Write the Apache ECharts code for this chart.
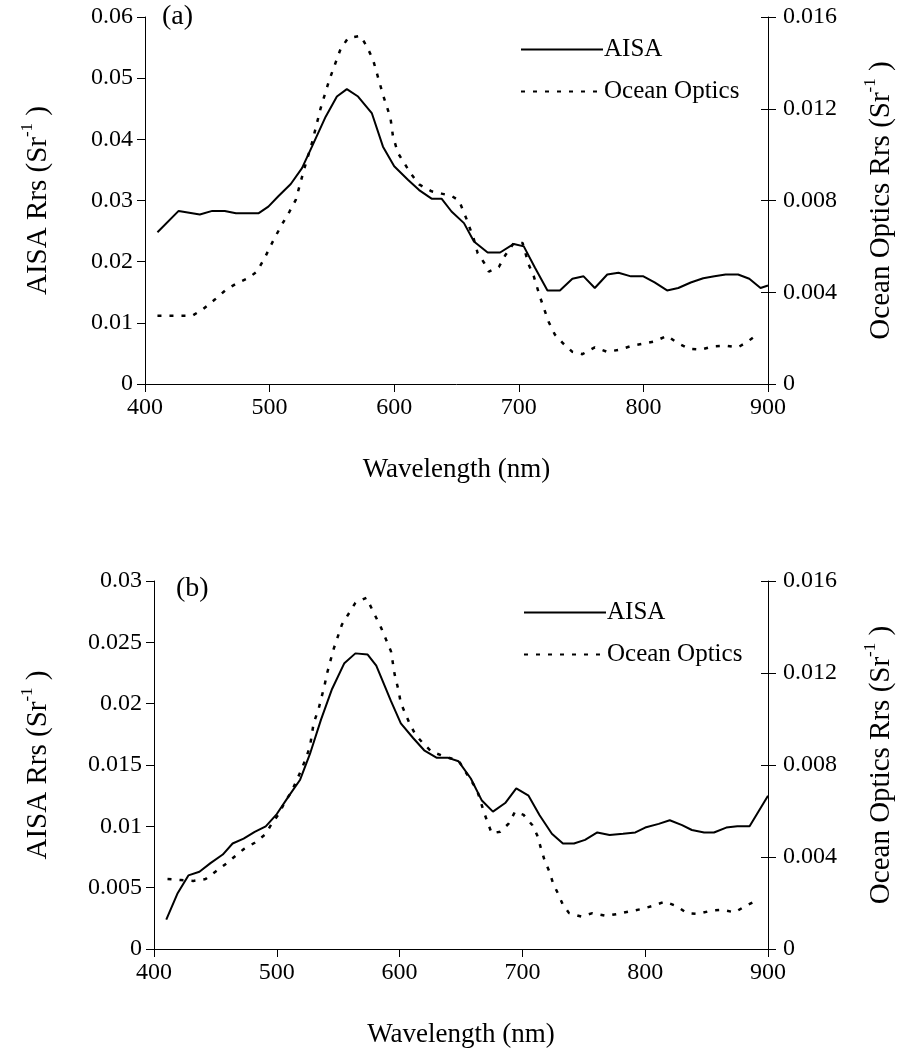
<!DOCTYPE html>
<html>
<head>
<meta charset="utf-8">
<script src="https://cdn.jsdelivr.net/npm/echarts@6/dist/echarts.min.js"></script>
<style>
html,body{margin:0;padding:0;background:#fff;}
#chart{width:904px;height:1057px;}
</style>
</head>
<body>
<div id="chart"></div>
<script>
// ---------- data (wavelength nm, Rrs Sr^-1) ----------
const wlAisaA = [410,427,444,454,464,473,491,499,507,517,526,534,545,554,562,571,582,591,600,611,620,630,638,646,656,664,675,685,696,704,713,723,733,743,752,761,771,780,790,800,809,819,828,838,848,857,866,876,885,894,900];
const aisaA   = [0.0248,0.0283,0.0277,0.0283,0.0283,0.0279,0.0279,0.0290,0.0307,0.0327,0.0353,0.0388,0.0437,0.0470,0.0482,0.0470,0.0443,0.0388,0.0356,0.0334,0.0317,0.0303,0.0303,0.0282,0.0263,0.0233,0.0215,0.0215,0.0229,0.0225,0.0190,0.0153,0.0153,0.0172,0.0176,0.0157,0.0179,0.0182,0.0176,0.0176,0.0166,0.0153,0.0157,0.0166,0.0173,0.0176,0.0179,0.0179,0.0172,0.0157,0.0161];

const wlOceanA = [410,438,446,456,465,474,483,490,496,502,509,516,521,528,534,541,548,557,563,573,578,583,591,597,599,603,613,620,630,638,646,652,658,664,667,672,676,684,689,696,703,708,712,717,724,729,735,743,751,761,771,781,791,800,809,819,827,837,846,856,866,876,884,891];
const oceanA   = [0.00298,0.00298,0.00324,0.00368,0.00411,0.00440,0.00462,0.00491,0.00549,0.00615,0.00687,0.00752,0.00803,0.00942,0.01051,0.01203,0.01327,0.01461,0.01508,0.01518,0.01472,0.01414,0.01261,0.01160,0.01080,0.01007,0.00920,0.00870,0.00840,0.00830,0.00820,0.00800,0.00720,0.00630,0.00570,0.00530,0.00490,0.00510,0.00560,0.00615,0.00615,0.00520,0.00470,0.00380,0.00270,0.00215,0.00180,0.00140,0.00130,0.00160,0.00140,0.00150,0.00167,0.00176,0.00186,0.00210,0.00180,0.00153,0.00150,0.00164,0.00167,0.00160,0.00186,0.00215];

const wlAisaB = [410,419,428,437,446,456,464,473,482,491,500,510,519,527,536,545,555,564,574,581,586,593,601,611,620,630,639,648,658,667,676,686,695,705,714,724,733,742,751,761,771,782,792,800,811,820,830,838,848,856,866,875,885,900];
const aisaB   = [0.0024,0.0045,0.0060,0.0063,0.0070,0.0077,0.0086,0.0090,0.00955,0.0100,0.0110,0.0125,0.0138,0.0159,0.0187,0.0212,0.0233,0.0241,0.0240,0.0231,0.0219,0.0202,0.0184,0.0172,0.0162,0.0156,0.0156,0.0153,0.0139,0.0121,0.0112,0.0119,0.0131,0.0125,0.0109,0.0094,0.0086,0.0086,0.0089,0.0095,0.0093,0.0094,0.0095,0.0099,0.0102,0.0105,0.0101,0.0097,0.0095,0.0095,0.0099,0.0100,0.0100,0.0125];

const wlOceanB = [411,422,432,442,450,459,467,473,482,491,496,502,506,512,520,524,527,530,534,539,541,546,553,564,573,585,593,596,599,601,608,613,619,626,638,648,656,663,669,675,682,689,694,701,708,712,715,718,722,725,729,733,738,748,757,768,778,787,797,806,816,826,834,843,854,863,873,880,889];
const oceanB   = [0.00304,0.00300,0.00296,0.00304,0.00336,0.00372,0.00408,0.00434,0.00462,0.00500,0.00546,0.00590,0.00634,0.00684,0.00779,0.00834,0.00880,0.00982,0.01043,0.01149,0.01200,0.01300,0.01410,0.01505,0.01527,0.01396,0.01294,0.01193,0.01127,0.01069,0.00982,0.00931,0.00895,0.00858,0.00834,0.00820,0.00750,0.00692,0.00590,0.00503,0.00510,0.00546,0.00597,0.00583,0.00539,0.00495,0.00440,0.00386,0.00336,0.00285,0.00241,0.00192,0.00156,0.00141,0.00156,0.00144,0.00153,0.00163,0.00174,0.00187,0.00206,0.00185,0.00156,0.00153,0.00167,0.00170,0.00159,0.00182,0.00206];

// axis ranges / tick labels
const xTicks      = [400, 500, 600, 700, 800, 900];
const leftTicksA  = [0, 0.01, 0.02, 0.03, 0.04, 0.05, 0.06];
const leftTicksB  = [0, 0.005, 0.01, 0.015, 0.02, 0.025, 0.03];
const rightTicks  = [0, 0.004, 0.008, 0.012, 0.016];
const seriesNames = ['AISA', 'Ocean Optics'];
const panelLabels = ['(a)', '(b)'];

// ---------- build ----------
const zip = (xs, ys) => xs.map((x, i) => [x, ys[i]]);
const FONT = 'Liberation Serif';
const black = '#000';
const TICK_FS = 24;

function xAx(grid) {
  return {
    type: 'value', gridIndex: grid,
    min: xTicks[0], max: xTicks[xTicks.length - 1], interval: xTicks[1] - xTicks[0],
    name: 'Wavelength (nm)', nameLocation: 'middle', nameGap: 72,
    nameTextStyle: { fontFamily: FONT, fontSize: 27, color: black },
    axisLine: { show: true, onZero: false, lineStyle: { color: black, width: 1 } },
    axisTick: { show: true, inside: false, length: 8, lineStyle: { color: black } },
    axisLabel: { fontFamily: FONT, fontSize: TICK_FS, color: black, margin: 12 },
    splitLine: { show: false }
  };
}
function yName(txt) {
  return '{t|' + txt + ' (Sr}{s|-1}{t| )}';
}
const richName = {
  t: { fontFamily: FONT, fontSize: 29, color: black, lineHeight: 34, verticalAlign: 'bottom' },
  s: { fontFamily: FONT, fontSize: 17, color: black, lineHeight: 34, verticalAlign: 'top' }
};
function yLeft(grid, ticks, gap) {
  return {
    type: 'value', gridIndex: grid, position: 'left',
    min: ticks[0], max: ticks[ticks.length - 1], interval: ticks[1] - ticks[0],
    name: yName('AISA Rrs'), nameLocation: 'middle', nameGap: gap, nameRotate: 90,
    nameTextStyle: { rich: richName },
    axisLine: { show: true, onZero: false, lineStyle: { color: black, width: 1 } },
    axisTick: { show: true, inside: false, length: 8, lineStyle: { color: black } },
    axisLabel: { fontFamily: FONT, fontSize: TICK_FS, color: black, margin: 12 },
    splitLine: { show: false }
  };
}
function yRight(grid) {
  return {
    type: 'value', gridIndex: grid, position: 'right',
    min: rightTicks[0], max: rightTicks[rightTicks.length - 1], interval: rightTicks[1] - rightTicks[0],
    name: yName('Ocean Optics Rrs'), nameLocation: 'middle', nameGap: 94, nameRotate: 90,
    nameTextStyle: { rich: richName },
    axisLine: { show: true, onZero: false, lineStyle: { color: black, width: 1 } },
    axisTick: { show: true, inside: false, length: 8, lineStyle: { color: black } },
    axisLabel: { fontFamily: FONT, fontSize: TICK_FS, color: black, margin: 15 },
    splitLine: { show: false }
  };
}
function yRightInner(grid) {
  return {
    type: 'value', gridIndex: grid, position: 'right',
    min: rightTicks[0], max: rightTicks[rightTicks.length - 1], interval: rightTicks[1] - rightTicks[0],
    axisLine: { show: false },
    axisTick: { show: true, inside: true, length: 7, lineStyle: { color: black } },
    axisLabel: { show: false },
    splitLine: { show: false }
  };
}
const solid = { color: black, width: 2, type: 'solid' };
const dotted = { color: black, width: 2.5, type: [4, 8] };
function line(name, xi, yi, data, ls) {
  return {
    name, type: 'line', xAxisIndex: xi, yAxisIndex: yi, data,
    symbol: 'none', showSymbol: false, smooth: false, clip: true,
    lineStyle: ls, itemStyle: { color: black }, silent: true, z: 3
  };
}
function legend(left, top) {
  return {
    data: seriesNames, orient: 'vertical', left, top,
    itemWidth: 82, itemHeight: 14, itemGap: 13, selectedMode: false,
    itemStyle: { opacity: 0, color: 'rgba(0,0,0,0)', borderWidth: 0 },
    textStyle: { fontFamily: FONT, fontSize: 25, color: black, lineHeight: 29, padding: [0, 0, 0, -4] }
  };
}

const option = {
  animation: false,
  backgroundColor: '#fff',
  grid: [
    { left: 145, right: 132, top: 17, bottom: 673, containLabel: false },
    { left: 154, right: 131, top: 581, bottom: 108, containLabel: false }
  ],
  xAxis: [xAx(0), xAx(1)],
  yAxis: [
    yLeft(0, leftTicksA, 92), yRight(0), yRightInner(0),
    yLeft(1, leftTicksB, 101), yRight(1), yRightInner(1)
  ],
  legend: [legend(515, 30), legend(518, 593)],
  series: [
    line(seriesNames[0], 0, 0, zip(wlAisaA, aisaA), solid),
    line(seriesNames[1], 0, 1, zip(wlOceanA, oceanA), dotted),
    line(seriesNames[0], 1, 3, zip(wlAisaB, aisaB), solid),
    line(seriesNames[1], 1, 4, zip(wlOceanB, oceanB), dotted)
  ],
  graphic: [
    { type: 'text', left: 162, top: 3, style: { text: panelLabels[0], fontFamily: FONT, fontSize: 28, fill: black } },
    { type: 'text', left: 176, top: 575, style: { text: panelLabels[1], fontFamily: FONT, fontSize: 28, fill: black } }
  ]
};
const chart = echarts.init(document.getElementById('chart'), null, { renderer: 'canvas' });
chart.setOption(option);
</script>
</body>
</html>
